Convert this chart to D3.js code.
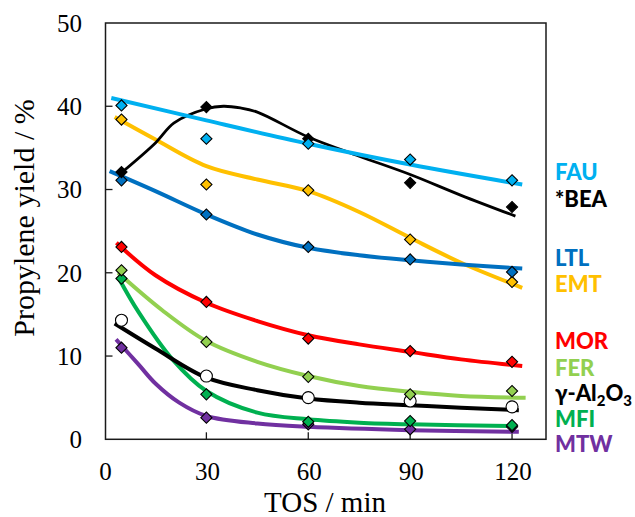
<!DOCTYPE html>
<html>
<head>
<meta charset="utf-8">
<script src="https://cdn.jsdelivr.net/npm/d3@7"></script>
<style>
  body { margin: 0; background: #fff; }
</style>
</head>
<body>
<div id="chart"></div>
<script>
// measured points (TOS in min, propylene yield in %)
var tos = [5, 30, 60, 90, 120];
var xTicks = [0, 30, 60, 90, 120];
var yTicks = [0, 10, 20, 30, 40, 50];

var fau = [40.1, 36.1, 35.5, 33.6, 31.1];
var bea = [32.1, 39.9, 36.1, 30.8, 27.9];
var ltl = [31.1, 27.0, 23.1, 21.6, 20.1];
var emt = [38.4, 30.6, 29.9, 24.0, 18.9];
var mor = [23.1, 16.5, 12.1, 10.6, 9.3];
var fer = [20.3, 11.7, 7.5, 5.4, 5.8];
var al2o3 = [14.3, 7.6, 5.0, 4.6, 3.9];
var mfi = [19.3, 5.4, 2.1, 2.2, 1.7];
var mtw = [11.0, 2.6, 1.8, 1.2, 1.5];

// trend lines: [TOS, yield]
var fauFit = [[2, 41.0], [30, 38.3], [60, 35.5], [90, 33.0], [123, 30.6]];
var beaFit = [[5.5, 32.2], [15, 35.6], [20.5, 38.0], [30, 39.7], [35, 40.0], [40, 39.8], [45, 39.3],
              [60, 36.3], [75, 34.0], [90, 31.8], [105, 29.3], [121, 26.8]];
var ltlFit = [[1.5, 32.2], [15, 29.8], [30, 27.0], [45, 24.6], [60, 23.0], [75, 22.1], [90, 21.5], [105, 21.0], [123, 20.5]];
var emtFit = [[3, 38.7], [15, 36.0], [30, 32.8], [45, 31.2], [60, 29.8], [75, 27.3], [90, 24.2], [105, 21.2], [123, 18.2]];
var morFit = [[3.5, 23.6], [15, 19.7], [30, 16.4], [45, 14.2], [60, 12.5], [75, 11.4], [90, 10.5], [105, 9.6], [123, 8.8]];
var ferFit = [[4, 20.0], [17, 15.5], [30, 11.8], [45, 9.3], [60, 7.6], [75, 6.4], [90, 5.7], [105, 5.2], [124, 5.0]];
var al2o3Fit = [[3, 13.9], [15, 10.9], [30, 7.4], [45, 5.9], [60, 4.9], [75, 4.4], [90, 4.1], [105, 3.8], [122, 3.5]];
var mfiFit = [[4, 19.5], [10, 15.3], [20, 9.6], [30, 5.8], [45, 3.2], [60, 2.4], [75, 2.0], [90, 1.8], [121, 1.6]];
var mtwFit = [[3.4, 12.0], [10, 9.0], [15, 6.7], [22, 4.4], [30, 2.8], [45, 1.9], [60, 1.5], [90, 1.1], [122, 0.9]];

var names = ["FAU", "*BEA", "LTL", "EMT", "MOR", "FER", "γ-Al2O3", "MFI", "MTW"];
var colors = ["#00B0F0", "#000000", "#0070C0", "#FFC000", "#FF0000", "#92D050", "#000000", "#00B050", "#7030A0"];

var series = [
    { name: "MTW", pts: mtw, fit: mtwFit, color: "#7030A0" },
    { name: "MFI", pts: mfi, fit: mfiFit, color: "#00B050" },
    { name: "γ-Al2O3", pts: al2o3, fit: al2o3Fit, color: "#000000", circle: true },
    { name: "FER", pts: fer, fit: ferFit, color: "#92D050" },
    { name: "MOR", pts: mor, fit: morFit, color: "#FF0000" },
    { name: "EMT", pts: emt, fit: emtFit, color: "#FFC000" },
    { name: "LTL", pts: ltl, fit: ltlFit, color: "#0070C0" },
    { name: "*BEA", pts: bea, fit: beaFit, color: "#000000", thin: true },
    { name: "FAU", pts: fau, fit: fauFit, color: "#00B0F0" }
];

var width = 635, height = 517;

var svg = d3.select("#chart")
    .append("svg")
    .attr("width", width)
    .attr("height", height);

var x = d3.scaleLinear().domain([0, 130]).range([104.5, 546]);
var y = d3.scaleLinear().domain([0, 50]).range([439.3, 23]);

// frame
svg.append("rect")
    .attr("x", 105.5)
    .attr("y", y(50))
    .attr("width", x(130) - 105.5)
    .attr("height", y(0) - y(50))
    .attr("fill", "none")
    .attr("stroke", "#1a1a1a")
    .attr("stroke-width", 1.5);

// ticks (inside)
svg.append("g").selectAll("line")
    .data(xTicks.slice(1))
    .enter().append("line")
    .attr("x1", d => x(d)).attr("x2", d => x(d))
    .attr("y1", y(0)).attr("y2", y(0) - 7)
    .attr("stroke", "#1a1a1a").attr("stroke-width", 1.3);

svg.append("g").selectAll("line")
    .data(yTicks.slice(1, -1))
    .enter().append("line")
    .attr("x1", 105.5).attr("x2", 112.5)
    .attr("y1", d => y(d)).attr("y2", d => y(d))
    .attr("stroke", "#1a1a1a").attr("stroke-width", 1.3);

// tick labels
svg.append("g").selectAll("text")
    .data(xTicks)
    .enter().append("text")
    .attr("x", d => x(d) + 1)
    .attr("y", 480)
    .attr("text-anchor", "middle")
    .style("font-family", "'Liberation Serif', 'Times New Roman', serif")
    .style("font-size", "25px")
    .text(d => d);

svg.append("g").selectAll("text")
    .data(yTicks)
    .enter().append("text")
    .attr("x", 82)
    .attr("y", d => y(d))
    .attr("dy", "0.35em")
    .attr("text-anchor", "end")
    .style("font-family", "'Liberation Serif', 'Times New Roman', serif")
    .style("font-size", "25px")
    .text(d => d);

// axis titles
svg.append("text")
    .attr("x", 325)
    .attr("y", 512)
    .attr("text-anchor", "middle")
    .style("font-family", "'Liberation Serif', 'Times New Roman', serif")
    .style("font-size", "29px")
    .text("TOS / min");

svg.append("text")
    .attr("transform", "translate(34,218) rotate(-90)")
    .attr("text-anchor", "middle")
    .style("font-family", "'Liberation Serif', 'Times New Roman', serif")
    .style("font-size", "30px")
    .text("Propylene yield / %");

// trend lines
var line = d3.line()
    .x(d => x(d[0]))
    .y(d => y(d[1]))
    .curve(d3.curveCatmullRom.alpha(0.5));

svg.append("g").selectAll("path")
    .data(series)
    .enter().append("path")
    .attr("d", d => line(d.fit))
    .attr("fill", "none")
    .attr("stroke", d => d.color)
    .attr("stroke-width", d => d.thin ? 2.8 : 4)
    .attr("stroke-linecap", "butt");

// markers
var diamond = d3.symbol().type(d3.symbolSquare).size(62);

series.forEach(function (s) {
    var g = svg.append("g");
    if (s.circle) {
        g.selectAll("circle")
            .data(s.pts)
            .enter().append("circle")
            .attr("cx", (d, i) => x(tos[i]))
            .attr("cy", d => y(d))
            .attr("r", 6)
            .attr("fill", "#fff")
            .attr("stroke", "#000")
            .attr("stroke-width", 1.1);
    } else {
        g.selectAll("path")
            .data(s.pts)
            .enter().append("path")
            .attr("d", diamond)
            .attr("transform", (d, i) => "translate(" + x(tos[i]) + "," + y(d) + ") rotate(45)")
            .attr("fill", s.color)
            .attr("stroke", "#000")
            .attr("stroke-width", 1.1);
    }
});

// labels on the right
var labelY = [180, 207, 266, 292, 349, 376, 401, 427, 452];

var labels = svg.append("g")
    .style("font-family", "Lato, 'Open Sans', sans-serif")
    .style("font-weight", "900")
    .style("font-size", "22px");

names.forEach(function (n, i) {
    var t = labels.append("text")
        .attr("x", 555)
        .attr("y", labelY[i])
        .attr("fill", colors[i]);
    if (n === "γ-Al2O3") {
        t.append("tspan").text("γ-Al");
        t.append("tspan").attr("dy", 5).style("font-size", "15px").text("2");
        t.append("tspan").attr("dy", -5).text("O");
        t.append("tspan").attr("dy", 5).style("font-size", "15px").text("3");
    } else {
        t.text(n);
    }
});
</script>
</body>
</html>
